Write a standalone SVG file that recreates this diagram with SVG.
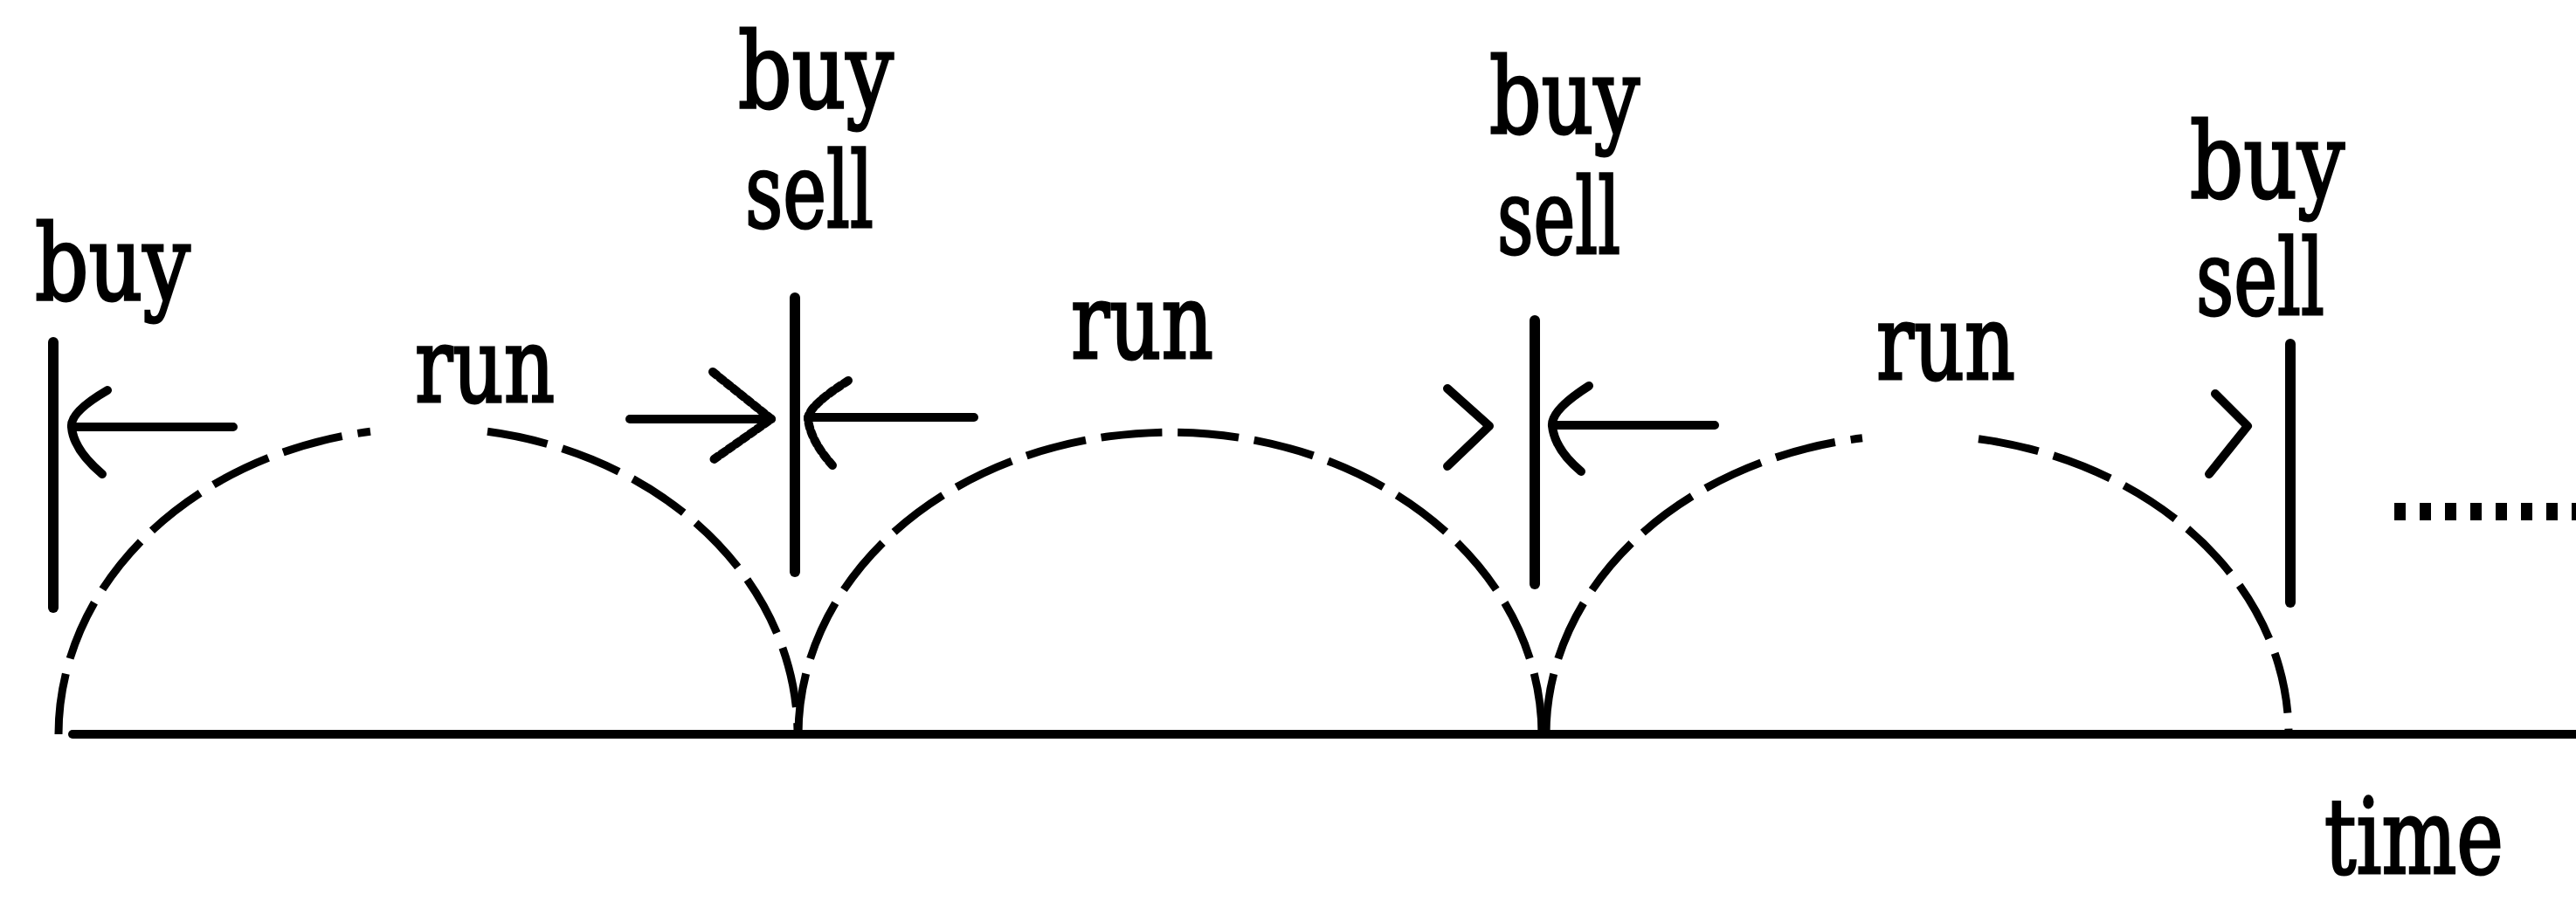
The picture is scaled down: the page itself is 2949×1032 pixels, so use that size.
<svg xmlns="http://www.w3.org/2000/svg" width="2949" height="1032" viewBox="0 0 2949 1032">
<style>
text{font-family:"DejaVu Serif","Liberation Serif",serif;font-size:120px;fill:#000;stroke:#000;stroke-width:3}
.ln{stroke:#000;fill:none;stroke-linecap:round;stroke-linejoin:round}
.bar{stroke-width:12}
.arw{stroke-width:10}
.arc{stroke-width:9;stroke-dasharray:70 18;stroke-linecap:butt}
.dot{stroke-dasharray:6 4}
</style>
<rect width="2949" height="1032" fill="#fff"/>
<g id="connectors">
<line id="axis" class="ln" x1="83" y1="841" x2="2949" y2="841" stroke-width="10" stroke-linecap="butt"/>
<path id="arc1" class="ln arc" d="M 67 841 A 423 351 0 0 1 424 494.3 M 558 494.3 A 423 351 0 0 1 913 841"/>
<path id="arc2" class="ln arc" d="M 914 841 A 425.5 346 0 0 1 1765 841"/>
<path id="arc3" class="ln arc" d="M 1770 841 A 425 343 0 0 1 2132 501.8 M 2265 502.7 A 425 343 0 0 1 2620 841"/>
<path id="arrow1" class="ln arw" d="M 82 489 L 267 489 M 123 447 Q 80 472 82 489 Q 84 515 117 543"/>
<path id="arrow2" class="ln arw" d="M 721 480 L 883 480"/>
<path class="ln arw dot" d="M 816 426 L 883 480 L 816 527"/>
<path id="arrow3" class="ln arw" d="M 925 478 L 1115 478"/>
<path class="ln arw dot" d="M 971 436 Q 925 465 925 480 Q 928 505 953 533"/>
<path id="arrow4" class="ln arw" d="M 1657 445 L 1705 488 L 1657 534"/>
<path id="arrow5" class="ln arw" d="M 1777 487 L 1963 487 M 1819 442 Q 1775 470 1777 488 Q 1780 515 1810 540"/>
<path id="arrow6" class="ln arw" d="M 2536 451 L 2573 488 L 2529 543"/>
<line id="ellipsis" x1="2741" y1="586" x2="2949" y2="586" stroke="#000" stroke-width="20" stroke-dasharray="13 16"/>
</g>
<g id="marker1"><line class="ln bar" x1="61" y1="392" x2="61" y2="696"/><text x="40" y="343" textLength="178" lengthAdjust="spacingAndGlyphs">buy</text></g>
<g id="marker2"><line class="ln bar" x1="910" y1="341" x2="910" y2="655"/><text x="845" y="123" textLength="178" lengthAdjust="spacingAndGlyphs">buy</text><text x="853" y="260" textLength="147" lengthAdjust="spacingAndGlyphs">sell</text></g>
<g id="marker3"><line class="ln bar" x1="1757" y1="367" x2="1757" y2="669"/><text x="1705" y="152" textLength="172" lengthAdjust="spacingAndGlyphs">buy</text><text x="1714" y="290" textLength="141" lengthAdjust="spacingAndGlyphs">sell</text></g>
<g id="marker4"><line class="ln bar" x1="2622" y1="394" x2="2622" y2="690"/><text x="2507" y="226" textLength="177" lengthAdjust="spacingAndGlyphs">buy</text><text x="2514" y="360" textLength="147" lengthAdjust="spacingAndGlyphs">sell</text></g>
<g id="run1"><text x="475" y="460" textLength="160" lengthAdjust="spacingAndGlyphs">run</text></g>
<g id="run2"><text x="1226" y="410" textLength="163" lengthAdjust="spacingAndGlyphs">run</text></g>
<g id="run3"><text x="2148" y="434" textLength="159" lengthAdjust="spacingAndGlyphs">run</text></g>
<g id="time"><text x="2661" y="1000" textLength="205" lengthAdjust="spacingAndGlyphs">time</text></g>
</svg>
